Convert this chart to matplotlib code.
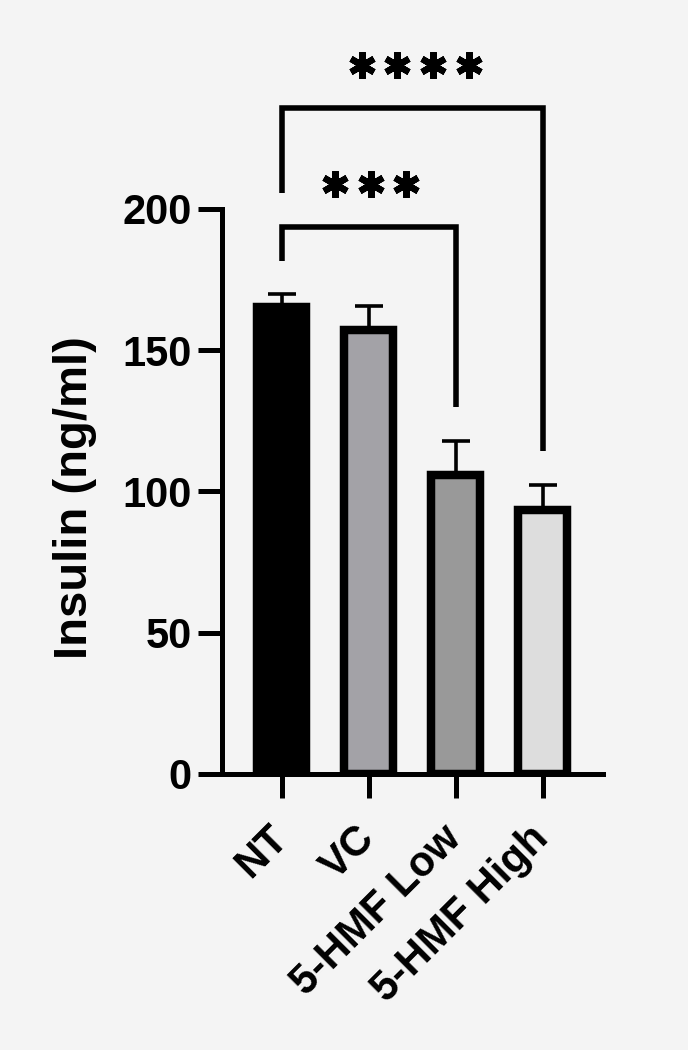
import numpy as np
import matplotlib.pyplot as plt

groups = ["NT", "VC", "5-HMF Low", "5-HMF High"]
means = [165.2, 157.0, 106.0, 93.3]
sems = [4.7, 8.6, 11.7, 8.9]
fills = ["#000000", "#a3a2a7", "#999999", "#dddddd"]
yticks = [0, 50, 100, 150, 200]

# significance brackets: (left group, right group, bar height, left leg end, right leg end, stars)
brackets = [
    (0, 2, 193.6, 181.6, 129.8, "***"),
    (0, 3, 235.8, 205.7, 114.2, "****"),
]
star_y = [208.9, 251.0]
star_x = [1.023, 1.535]
star_step = 0.41

bg = "#f4f4f4"
plt.rcParams["font.family"] = ["Liberation Sans", "DejaVu Sans"]
plt.rcParams["font.weight"] = "bold"

fig = plt.figure(figsize=(6.88, 10.5), dpi=100, facecolor=bg)
ax = fig.add_axes([0.32267, 0.26286, 0.55378, 0.5381], facecolor=bg)

x = np.arange(len(groups))
ax.bar(x, means, width=0.57, color=fills, edgecolor="black", linewidth=6.1, zorder=2)
ax.errorbar(x, means, yerr=[np.zeros(len(sems)), sems], fmt="none", ecolor="black",
            elinewidth=2.6, capsize=10, capthick=2.6, zorder=1)

for (a, b, h, la, lb, s), sy, sx in zip(brackets, star_y, star_x):
    ax.plot([a, a, b, b], [la, h, h, lb], color="black", lw=4, clip_on=False,
            solid_joinstyle="miter", solid_capstyle="butt", zorder=3)
    n = len(s)
    xs = sx + (np.arange(n) - (n - 1) / 2) * star_step
    ax.plot(xs, [sy] * n, linestyle="none", marker=(6, 2, 0), ms=19, mew=4.6,
            color="black", clip_on=False)

ax.set_xlim(-0.684, 3.695)
ax.set_ylim(0, 200)
ax.set_yticks(yticks)
ax.set_xticks(x)
ax.set_xticklabels(groups, rotation=45, ha="right", va="center", rotation_mode="anchor")

for side in ["top", "right"]:
    ax.spines[side].set_visible(False)
for side in ["left", "bottom"]:
    ax.spines[side].set_linewidth(3.6)

ax.tick_params(axis="y", length=17, width=3.6, pad=5, labelsize=30)
ax.tick_params(axis="x", length=17, width=3.6, pad=25, labelsize=30)
for lab in ax.get_xticklabels() + ax.get_yticklabels():
    lab.set_fontweight("bold")

ax.set_ylabel("Insulin (ng/ml)", fontsize=34, fontweight="bold")
ax.yaxis.set_label_coords(-0.328, 0.4885)

fig.savefig("out.png", dpi=100, facecolor=bg)
